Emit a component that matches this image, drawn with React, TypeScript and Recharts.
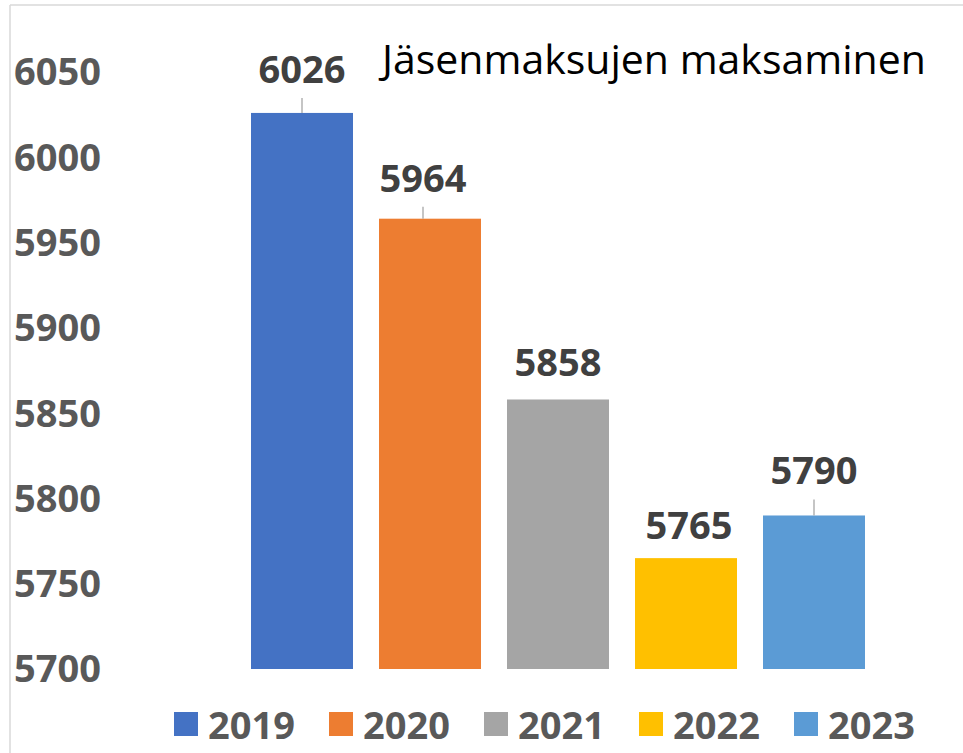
import { BarChart, Bar, XAxis, YAxis, Cell } from "recharts";

const years = ["2019", "2020", "2021", "2022", "2023"];
const payments = [6026, 5964, 5858, 5765, 5790];
const yTicks = [5700, 5750, 5800, 5850, 5900, 5950, 6000, 6050];
const colors = ["#4472C4", "#ED7D31", "#A5A5A5", "#FFC000", "#5B9BD5"];

const data = years.map((year, i) => ({ year, value: payments[i] }));

// label nudges, roughly where Excel dropped them
const LABEL_NUDGE = [
  { dx: 0, dy: -30 },
  { dx: -7, dy: -27 },
  { dx: 0, dy: -23 },
  { dx: 3, dy: -19 },
  { dx: 0, dy: -31 },
];

const FONT = "'Open Sans', 'DejaVu Sans', sans-serif";

function BarWithLabel(props: any) {
  const { x, y, width, height, fill, index } = props;
  const nudge = LABEL_NUDGE[index] ?? { dx: 0, dy: -25 };
  const cx = x + width / 2 + nudge.dx;
  const baseline = y + nudge.dy;
  return (
    <g>
      <rect x={x} y={y} width={width} height={height} fill={fill} />
      {/* leader line only when the label sits far enough above the bar */}
      {y - baseline > 26 && (
        <line x1={cx} y1={baseline + 15} x2={cx} y2={y} stroke="#A6A6A6" strokeWidth={1.3} />
      )}
      <text
        x={cx}
        y={baseline}
        textAnchor="middle"
        fontFamily={FONT}
        fontWeight={700}
        fontSize={38}
        fill="#404040"
      >
        {payments[index]}
      </text>
    </g>
  );
}

function LegendRow() {
  return (
    <div
      style={{
        position: "absolute",
        left: 174,
        top: 705,
        display: "flex",
        fontFamily: FONT,
      }}
    >
      {years.map((yr, i) => (
        <div key={yr} style={{ display: "flex", alignItems: "center", width: 155 }}>
          <div style={{ width: 24, height: 24, background: colors[i], marginRight: 10 }} />
          <span style={{ fontSize: 38, fontWeight: 700, color: "#595959", lineHeight: 1 }}>{yr}</span>
        </div>
      ))}
    </div>
  );
}

export default function App() {
  return (
    <div style={{ position: "absolute", left: 0, top: 0, width: 963, height: 753, background: "#fff", overflow: "hidden" }}>
      <BarChart
        width={963}
        height={753}
        data={data}
        margin={{ top: 72, right: 85, left: 0, bottom: 84 }}
      >
        <XAxis dataKey="year" hide />
        <YAxis
          width={238}
          domain={[5700, 6050]}
          ticks={yTicks}
          axisLine={false}
          tickLine={false}
          tickSize={0}
          tickMargin={137}
          tick={{ fontSize: 38, fontWeight: 700, fill: "#595959", fontFamily: FONT }}
        />
        <Bar dataKey="value" barSize={102} shape={BarWithLabel} isAnimationActive={false}>
          {data.map((d, i) => (
            <Cell key={d.year} fill={colors[i]} />
          ))}
        </Bar>
      </BarChart>
      <LegendRow />
      <svg
        width={963}
        height={753}
        style={{ position: "absolute", left: 0, top: 0, pointerEvents: "none" }}
      >
        <line x1={10} y1={5} x2={963} y2={5} stroke="#D9D9D9" strokeWidth={1.5} />
        <line x1={10} y1={5} x2={10} y2={753} stroke="#D9D9D9" strokeWidth={1.5} />
        <text x={382} y={74} fontFamily={FONT} fontSize={41} fill="#000000">
          Jäsenmaksujen maksaminen
        </text>
      </svg>
    </div>
  );
}
